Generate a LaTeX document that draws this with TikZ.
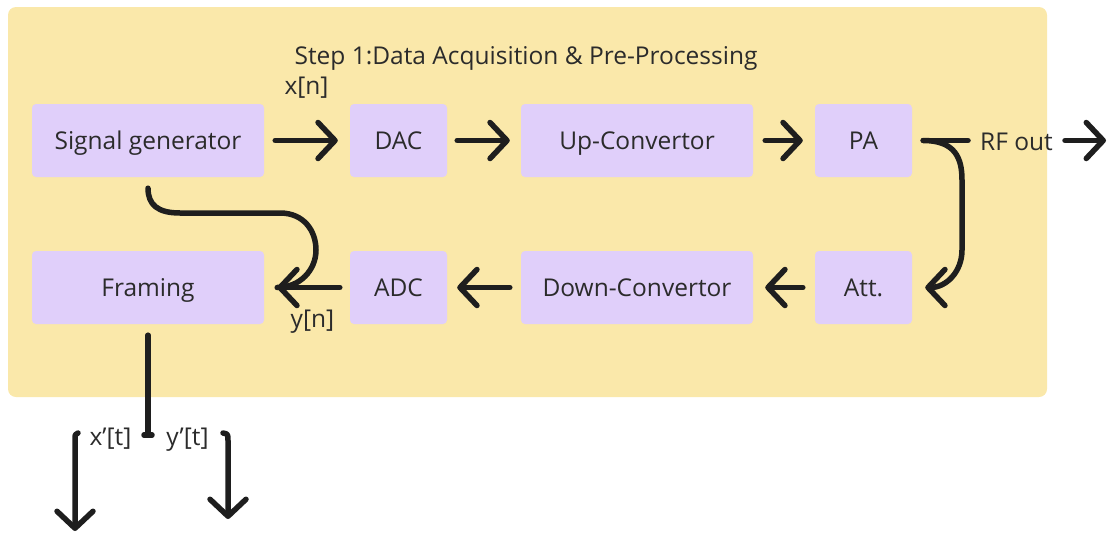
\documentclass[tikz,border=0pt]{standalone}
\usepackage{fontspec}
\setmainfont{Open Sans}
\usetikzlibrary{arrows.meta,calc}
\definecolor{panel}{HTML}{FAE8AA}
\definecolor{block}{HTML}{E0CFFA}
\definecolor{ink}{HTML}{1E1E1E}
\definecolor{txt}{HTML}{2B2B2B}
\begin{document}
\begin{tikzpicture}[x=1pt,y=-1pt,
  every node/.style={font=\fontsize{24.5}{29}\selectfont, text=txt},
  blk/.style={fill=block, rounded corners=4pt, inner sep=0pt, minimum height=73pt,
              text height=18pt, text depth=0pt},
  wide/.style={blk, minimum width=232pt},
  narrow/.style={blk, minimum width=97pt},
  link/.style={draw=ink, line width=5.5pt, line cap=round, line join=round},
  arr/.style={link, -{Straight Barb[length=17pt,width=36pt,round]}},
  lbl/.style={inner sep=0pt, anchor=base}]
\useasboundingbox (0,0) rectangle (1109,536);
% background panel
\fill[panel, rounded corners=8pt] (8,7) rectangle (1047,397);

% title
\node[lbl] (title) at (526,64) {Step 1:Data Acquisition \& Pre-Processing};

% upper chain
\node[wide]   (sg)   at (148,140.5) {Signal generator};
\node[narrow] (dac)  at (398.5,140.5) {DAC};
\node[wide]   (up)   at (637,140.5) {Up-Convertor};
\node[narrow] (pa)   at (863.5,140.5) {PA};

% lower chain
\node[wide]   (frm)  at (148,287.5) {Framing};
\node[narrow] (adc)  at (398.5,287.5) {ADC};
\node[wide]   (down) at (637,287.5) {Down-Convertor};
\node[narrow] (att)  at (863.5,287.5) {Att.};

% signal labels
\node[lbl] (xn) at (306.5,94) {x[n]};
\node[lbl] (yn) at (312.5,327) {y[n]};
\node[lbl] (rf) at (1016.5,150) {RF out};

% forward path
\draw[arr] ($(sg.east)+(11,0)$) -- ($(dac.west)+(-12,0)$);
\draw[arr] ($(dac.east)+(10,0)$) -- ($(up.west)+(-11,0)$);
\draw[arr] ($(up.east)+(12,0)$) -- ($(pa.west)+(-12,0)$);
\draw[link] ($(pa.east)+(11,0)$) -- (968,140.5);
\coordinate (rfend) at (1106,140.5);
\draw[arr] (1065,140.5) -- (rfend);

% loop back through the attenuator
\draw[arr] ($(pa.east)+(11,0)$) .. controls (955,140.5) and (962,158) .. (962,180)
  -- (962,250) .. controls (962,272) and (946,287.5) .. ($(att.east)+(13,0)$);

% return path
\draw[arr] ($(att.west)+(-12,0)$) -- ($(down.east)+(12,0)$);
\draw[arr] ($(down.west)+(-11,0)$) -- ($(adc.east)+(10,0)$);
\draw[arr] ($(adc.west)+(-10,0)$) -- ($(frm.east)+(13,0)$);

% reference signal fed from the generator
\draw[link] ($(sg.south)+(0,11)$) .. controls (148,205) and (158,213) .. (180,213)
  -- (280,213) .. controls (304,213) and (316,231) .. (316,250)
  .. controls (316,270) and (300,287.5) .. ($(frm.east)+(13,0)$);

% framing outputs
\coordinate (split) at (148,435);
\draw[link] ($(frm.south)+(0,11)$) -- (split);
\draw[link] (144,435) -- (152,435);
\node[lbl] (xt) at (110.5,445) {x’[t]};
\node[lbl] (yt) at (187.5,445) {y’[t]};
\coordinate (xtend) at (75,531);
\coordinate (ytend) at (228,519);
\draw[arr] (78,433) .. controls (75,434) .. (75,441) -- (xtend);
\draw[arr] (223,433) .. controls (228,434) .. (228,441) -- (ytend);
\end{tikzpicture}
\end{document}
